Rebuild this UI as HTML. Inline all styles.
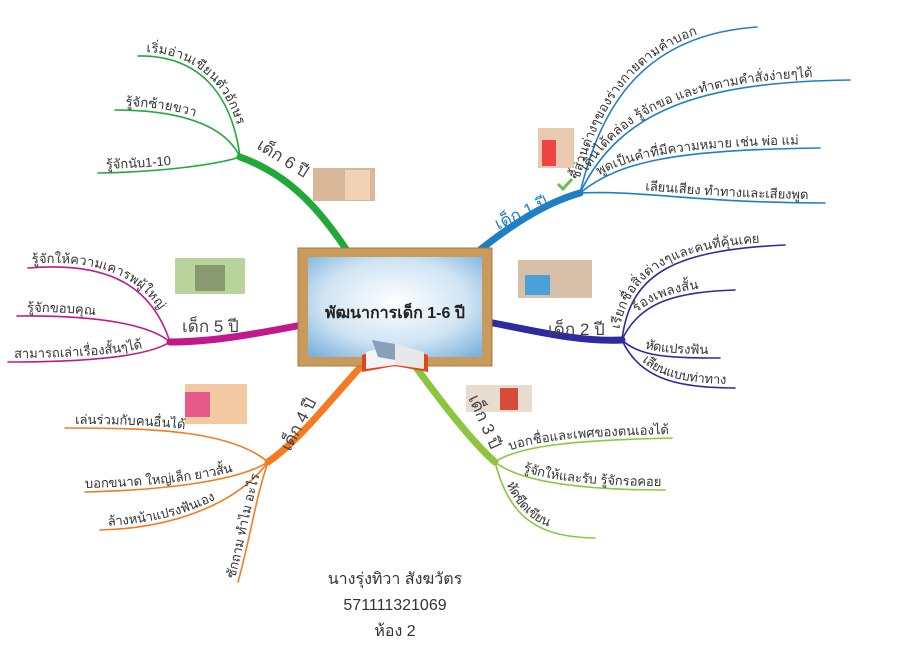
<!DOCTYPE html>
<html><head><meta charset="utf-8"><style>
body{margin:0;background:#fff;width:924px;height:652px;overflow:hidden}
svg{display:block}
text{font-family:"Liberation Sans","Noto Sans CJK SC",sans-serif}
.s{font-size:13px;fill:#333}
.l{font-size:17px;fill:#444}
</style></head><body>
<svg width="924" height="652" viewBox="0 0 924 652" xmlns="http://www.w3.org/2000/svg">
<defs>
<radialGradient id="bg" cx="50%" cy="45%" r="70%"><stop offset="0" stop-color="#ffffff"/><stop offset="0.6" stop-color="#cfe4f3"/><stop offset="1" stop-color="#7fb3dc"/></radialGradient>
<path id="a1" d="M580,193 C600,110 640,35 757,27"/>
<path id="a2" d="M580,193 C620,110 700,82 850,80"/>
<path id="a3" d="M580,193 C620,160 680,150 820,148"/>
<path id="a4" d="M580,193 C640,190 700,203 825,203"/>
<path id="b1" d="M622,340 C630,270 680,250 785,245"/>
<path id="b2" d="M622,340 C640,300 680,292 735,290"/>
<path id="b3" d="M622,340 C640,357 670,358 720,358"/>
<path id="b4" d="M622,340 C640,380 680,388 735,388"/>
<path id="c1" d="M495,462 C520,445 580,440 672,438"/>
<path id="c2" d="M495,462 C520,482 580,490 665,490"/>
<path id="c3" d="M495,462 C510,520 540,537 595,538"/>
<path id="d1" d="M65,428 C150,428 230,430 268,462"/>
<path id="d2" d="M85,492 C170,490 240,480 268,462"/>
<path id="d3" d="M100,530 C180,528 240,500 268,462"/>
<path id="d4" d="M238,582 C250,540 255,500 268,462"/>
<path id="e1" d="M28,268 C100,262 150,280 170,342"/>
<path id="e2" d="M17,316 C100,315 150,325 170,342"/>
<path id="e3" d="M8,362 C100,362 150,355 170,342"/>
<path id="f1" d="M138,56 C200,55 232,95 240,157"/>
<path id="f2" d="M115,110 C180,110 225,125 240,157"/>
<path id="f3" d="M98,173 C160,172 215,165 240,157"/>
</defs>

<rect x="313" y="168" width="62" height="33" fill="#d9b89a"/><rect x="345" y="170" width="25" height="30" fill="#f0d2b4"/>
<rect x="175" y="258" width="70" height="36" fill="#b9d49a"/><rect x="195" y="265" width="30" height="26" fill="#8a9a70"/>
<rect x="185" y="384" width="62" height="40" fill="#f2c9a0"/><rect x="185" y="392" width="25" height="25" fill="#e85a8a"/>
<rect x="538" y="128" width="36" height="40" fill="#e9c9b0"/><rect x="542" y="140" width="14" height="26" fill="#e44"/>
<rect x="518" y="260" width="74" height="38" fill="#d8c0a8"/><rect x="525" y="275" width="25" height="20" fill="#4aa0d8"/>
<rect x="466" y="385" width="66" height="27" fill="#e8dccf"/><rect x="500" y="388" width="18" height="22" fill="#d84a3a"/>

<g fill="none" stroke-linecap="round">
<g stroke="#1f7fc6" stroke-width="1.6"><use href="#a1"/><use href="#a2"/><use href="#a3"/><use href="#a4"/></g>
<path d="M470,258 C510,225 545,203 580,193" stroke="#1f7fc6" stroke-width="7"/>
<g stroke="#2e2aa0" stroke-width="1.6"><use href="#b1"/><use href="#b2"/><use href="#b3"/><use href="#b4"/></g>
<path d="M488,322 C540,332 580,342 622,340" stroke="#2e2aa0" stroke-width="7"/>
<g stroke="#8cc63f" stroke-width="1.6"><use href="#c1"/><use href="#c2"/><use href="#c3"/></g>
<path d="M412,362 C440,400 470,440 495,462" stroke="#8cc63f" stroke-width="7"/>
<g stroke="#f47b20" stroke-width="1.6"><use href="#d1"/><use href="#d2"/><use href="#d3"/><use href="#d4"/></g>
<path d="M365,362 C330,400 300,440 268,462" stroke="#f47b20" stroke-width="7"/>
<g stroke="#c2188b" stroke-width="1.6"><use href="#e1"/><use href="#e2"/><use href="#e3"/></g>
<path d="M302,325 C250,335 210,342 170,342" stroke="#c2188b" stroke-width="7"/>
<g stroke="#22a83a" stroke-width="1.6"><use href="#f1"/><use href="#f2"/><use href="#f3"/></g>
<path d="M348,252 C320,210 290,175 240,157" stroke="#22a83a" stroke-width="7"/>
</g>

<g class="s">
<text dy="-4"><textPath href="#a1" startOffset="12">ชี้ส่วนต่างๆของร่างกายตามคำบอก</textPath></text>
<text dy="-4"><textPath href="#a2" startOffset="22">เดินได้คล่อง รู้จักขอ และทำตามคำสั่งง่ายๆได้</textPath></text>
<text dy="-4"><textPath href="#a3" startOffset="25">พูดเป็นคำที่มีความหมาย เช่น พ่อ แม่</textPath></text>
<text dy="-4"><textPath href="#a4" startOffset="65">เลียนเสียง ทำทางและเสียงพูด</textPath></text>
<text dy="-4"><textPath href="#b1" startOffset="10">เรียกชื่อสิ่งต่างๆและคนที่คุ้นเคย</textPath></text>
<text dy="-4"><textPath href="#b2" startOffset="30">ร้องเพลงสั้น</textPath></text>
<text dy="-4"><textPath href="#b3" startOffset="25">หัดแปรงฟัน</textPath></text>
<text dy="-4"><textPath href="#b4" startOffset="30">เลียนแบบท่าทาง</textPath></text>
<text dy="-4"><textPath href="#c1" startOffset="18">บอกชื่อและเพศของตนเองได้</textPath></text>
<text dy="-4"><textPath href="#c2" startOffset="30">รู้จักให้และรับ รู้จักรอคอย</textPath></text>
<text dy="-4"><textPath href="#c3" startOffset="25">หัดขีดเขียน</textPath></text>
<text dy="-4"><textPath href="#d1" startOffset="10">เล่นร่วมกับคนอื่นได้</textPath></text>
<text dy="-4"><textPath href="#d2" startOffset="0">บอกขนาด ใหญ่เล็ก ยาวสั้น</textPath></text>
<text dy="-4"><textPath href="#d3" startOffset="8">ล้างหน้าแปรงฟันเอง</textPath></text>
<text dy="-4"><textPath href="#d4" startOffset="2">ซักถาม ทำไม อะไร</textPath></text>
<text dy="-4"><textPath href="#e1" startOffset="4">รู้จักให้ความเคารพผู้ใหญ่</textPath></text>
<text dy="-4"><textPath href="#e2" startOffset="10">รู้จักขอบคุณ</textPath></text>
<text dy="-4"><textPath href="#e3" startOffset="6">สามารถเล่าเรื่องสั้นๆได้</textPath></text>
<text dy="-4"><textPath href="#f1" startOffset="8">เริ่มอ่านเขียนตัวอักษร</textPath></text>
<text dy="-4"><textPath href="#f2" startOffset="10">รู้จักซ้ายขวา</textPath></text>
<text dy="-4"><textPath href="#f3" startOffset="8">รู้จักนับ1-10</textPath></text>
</g>

<g class="l">
<text transform="translate(498,230) rotate(-25)" style="fill:#1f7fc6">เด็ก 1 ปี</text>
<text x="548" y="335">เด็ก 2 ปี</text>
<text transform="translate(468,398) rotate(66)">เด็ก 3 ปี</text>
<text transform="translate(290,452) rotate(-62)">เด็ก 4 ปี</text>
<text x="182" y="332">เด็ก 5 ปี</text>
<text transform="translate(256,148) rotate(32)">เด็ก 6 ปี</text>
</g>
<path d="M558,184 l5,5 l9,-10" stroke="#6cbf4a" stroke-width="3" fill="none"/>

<rect x="298" y="248" width="194" height="118" fill="#c89a5c" stroke="#a8783c"/>
<rect x="308" y="257" width="174" height="100" fill="url(#bg)"/>
<text x="395" y="318" text-anchor="middle" style="font-size:16px;font-weight:bold;fill:#222">พัฒนาการเด็ก 1-6 ปี</text>
<path d="M362,355 L395,345 L428,355 L428,372 L395,366 L362,372 Z" fill="#e2461c"/>
<path d="M366,352 L395,344 L395,365 L366,369 Z" fill="#f4f4f4"/>
<path d="M424,352 L395,344 L395,365 L424,369 Z" fill="#e8e8e8"/>
<path d="M372,340 L395,344 L395,360 L378,357 Z" fill="#8aa0b8"/>

<g style="font-size:16px;fill:#333" text-anchor="middle">
<text x="395" y="584">นางรุ่งทิวา สังฆวัตร</text>
<text x="395" y="610">571111321069</text>
<text x="395" y="636">ห้อง 2</text>
</g>
</svg>
</body></html>
